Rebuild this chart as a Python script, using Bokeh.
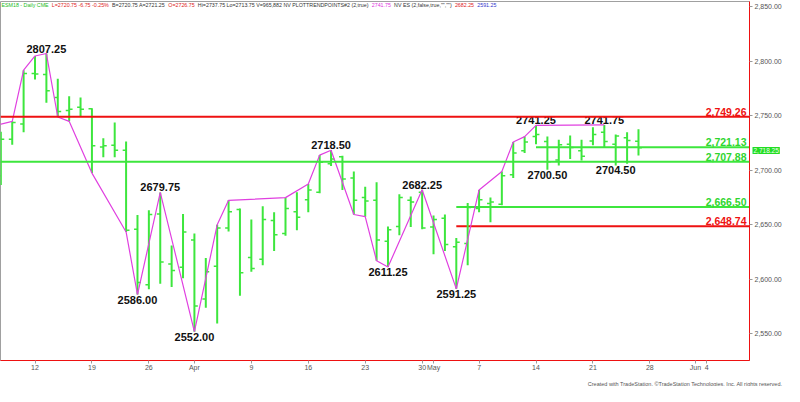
from bokeh.plotting import figure
from bokeh.models import (Range1d, FixedTicker, NumeralTickFormatter, Label,
                          ColumnDataSource, Span)
from bokeh.embed import file_html
from bokeh.resources import INLINE
from bokeh.core.properties import value

# ---------------- data ----------------
dates = ["Mar 7", "Mar 8", "Mar 9", "Mar 12", "Mar 13", "Mar 14", "Mar 15", "Mar 16",
         "Mar 19", "Mar 20", "Mar 21", "Mar 22", "Mar 23", "Mar 26", "Mar 27", "Mar 28",
         "Mar 29", "Apr 2", "Apr 3", "Apr 4", "Apr 5", "Apr 6", "Apr 9", "Apr 10",
         "Apr 11", "Apr 12", "Apr 13", "Apr 16", "Apr 17", "Apr 18", "Apr 19", "Apr 20",
         "Apr 23", "Apr 24", "Apr 25", "Apr 26", "Apr 27", "Apr 30", "May 1", "May 2",
         "May 3", "May 4", "May 7", "May 8", "May 9", "May 10", "May 11", "May 14",
         "May 15", "May 16", "May 17", "May 18", "May 21", "May 22", "May 23", "May 24",
         "May 25"]
opens = [2695, 2728.5, 2742.5, 2789, 2788, 2767, 2755, 2758,
         2756.5, 2721.5, 2723, 2718.5, 2646, 2595, 2660, 2614,
         2611, 2636, 2582, 2612, 2647, 2664, 2620, 2618.5,
         2654, 2642, 2662, 2673, 2680, 2706, 2712.5, 2693,
         2675, 2672.5, 2635, 2648.5, 2672.5, 2680, 2648, 2656,
         2630, 2633, 2665, 2669.5, 2669, 2696, 2718, 2731,
         2726.5, 2709.5, 2724, 2718, 2727, 2735, 2724, 2730,
         2726.75]
highs = [2735.5, 2745, 2792, 2805, 2807.25, 2784, 2768, 2767,
         2757, 2729.5, 2744, 2726.5, 2659, 2663.5, 2679.75, 2631,
         2660, 2642, 2619.5, 2650, 2672.5, 2665, 2655, 2667,
         2661.5, 2675, 2680, 2687.5, 2714, 2718.5, 2713.5, 2699,
         2685, 2689, 2648.5, 2678, 2676, 2682.25, 2658.5, 2659.5,
         2638, 2670, 2682, 2675, 2699, 2726, 2731, 2741.25,
         2731, 2728, 2732, 2728, 2739.5, 2741.75, 2733, 2735,
         2737.75]
lows = [2686.5, 2723.5, 2735, 2783.5, 2762, 2749, 2745, 2750,
        2697.5, 2712, 2712, 2643.5, 2586, 2591, 2596, 2593,
        2601, 2552, 2574, 2559.5, 2644, 2585, 2607, 2613,
        2626, 2640, 2645, 2661.5, 2679, 2704, 2682, 2659.5,
        2657.5, 2617, 2611.25, 2640.5, 2648, 2646, 2623, 2626,
        2591.25, 2613, 2661.5, 2652.5, 2668, 2693, 2716, 2724,
        2700.5, 2704.5, 2710.5, 2709, 2723, 2720.5, 2704.5, 2706,
        2713.75]
closes = [2728.5, 2744, 2789, 2788.5, 2773, 2754, 2756, 2756,
          2722.5, 2722.5, 2718.5, 2645, 2597, 2659.5, 2616, 2608,
          2643.5, 2575.5, 2607, 2647, 2662, 2606, 2610, 2655,
          2641, 2665, 2657, 2682, 2707.5, 2710.5, 2692, 2672.5,
          2672, 2636, 2645.5, 2675, 2671, 2647, 2655, 2632,
          2634, 2666, 2673, 2671, 2695, 2716, 2726, 2733,
          2708, 2723.5, 2721, 2713, 2733, 2726.5, 2731.5, 2727.5,
          2720.75]

# trading-day positions (Mar 7 = 0) for the trend-point line
trend_x = [-1, 1, 2, 3, 4, 5, 6, 8, 11, 12, 14, 17, 19, 20, 25, 27, 28, 29,
           31, 32, 33, 34, 37, 40, 42, 44, 45, 46, 47, 53]
trend_y = [2740, 2745, 2792, 2805, 2807.25, 2749, 2745, 2697.5, 2643.5, 2586,
           2679.75, 2552, 2650, 2672.5, 2675, 2687.5, 2714, 2718.5, 2659.5,
           2657.5, 2617, 2611.25, 2682.25, 2591.25, 2682, 2699, 2726, 2731,
           2741.25, 2741.75]

swing_high_x = [4, 14, 29, 37, 47, 53]
swing_high_y = [2807.25, 2679.75, 2718.50, 2682.25, 2741.25, 2741.75]
swing_low_x = [12, 17, 34, 40, 48, 54]
swing_low_y = [2586.00, 2552.00, 2611.25, 2591.25, 2700.50, 2704.50]

level_values = [2749.26, 2721.13, 2707.88, 2666.50, 2648.74]
level_kind = ["red", "green", "green", "green", "red"]
level_start = [None, 47, None, 40, 40]

last_marker = 2718.25

tick_pos = [3, 8, 13, 17, 22, 27, 32, 37, 38, 42, 47, 52, 57, 61, 62]
tick_labels = ["12", "19", "26", "Apr", "9", "16", "23", "30", "May", "7",
               "14", "21", "28", "Jun", "4"]
y_ticks = [2550, 2600, 2650, 2700, 2750, 2800, 2850]

header_texts = ["ESM18 - Daily CME", "L=2720.75 -6.75 -0.25%", "B=2720.75 A=2721.25",
                "O=2726.75", "Hi=2737.75 Lo=2713.75 V=965,882 NV PLOTTRENDPOINTS#2 (2,true)",
                "2741.75", "NV ES (2,false,true,\"\",\"\")", "2682.25", "2591.25"]
header_colors = ["#22bb22", "#dd2222", "#333333", "#dd2222", "#333333",
                 "#dd33dd", "#333333", "#dd2222", "#3333cc"]

# ---------------- styles ----------------
GREEN = "#3de63d"
GREEN_TXT = "#2fd52f"
RED = "#ee1111"
MAGENTA = "#e040e0"
FONT = "Liberation Sans"
W, H = 784, 386
RIGHT = 33
X0, X1 = -0.03, 65.75
Y0, Y1 = 2525.5, 2855.0

# approximate Arial / Liberation Sans advance widths (em) for laying out the header
_CW = {c: 0.556 for c in "0123456789#"}
_CW.update({".": .278, ",": .278, " ": .278, "-": .333, "=": .584, "%": .889,
            "(": .333, ")": .333, "\"": .355, "A": .667, "B": .667, "C": .722,
            "D": .722, "E": .667, "H": .722, "I": .278, "L": .556, "M": .833,
            "N": .722, "O": .778, "P": .667, "R": .722, "S": .667, "T": .611,
            "V": .667, "a": .556, "e": .556, "f": .278, "i": .222, "l": .222,
            "o": .556, "r": .333, "s": .5, "t": .278, "u": .556, "y": .5})


def text_w(s, size):
    return sum(_CW.get(c, 0.556) for c in s) * size


p = figure(width=W, height=H, output_backend="svg", toolbar_location=None,
           x_range=Range1d(X0, X1), y_range=Range1d(Y0, Y1),
           y_axis_location="right", min_border_left=0, min_border_right=RIGHT,
           min_border_top=1, min_border_bottom=24)
p.xgrid.visible = False
p.ygrid.visible = False
p.outline_line_color = "#a0a0a0"
p.background_fill_color = "white"
p.border_fill_color = "white"

# axes
p.yaxis.ticker = FixedTicker(ticks=y_ticks)
p.yaxis.formatter = NumeralTickFormatter(format="0,0.00")
p.xaxis.ticker = FixedTicker(ticks=tick_pos)
p.xaxis.major_label_overrides = {tp: tl for tp, tl in zip(tick_pos, tick_labels)}
for ax in (p.xaxis, p.yaxis):
    ax.axis_line_color = RED
    ax.axis_line_width = 1
    ax.major_tick_line_color = "#999999"
    ax.major_tick_in = 0
    ax.major_tick_out = 3
    ax.minor_tick_line_color = None
    ax.major_label_text_font = FONT
    ax.major_label_text_font_size = "7px"
    ax.major_label_text_color = "#555555"
    ax.major_label_standoff = 2
p.xaxis.major_label_standoff = 0

# level lines
for v, k, s in zip(level_values, level_kind, level_start):
    col = RED if k == "red" else GREEN
    if s is None:
        p.add_layout(Span(location=v, dimension="width", line_color=col, line_width=2))
    else:
        p.segment(x0=[s], y0=[v], x1=[X1], y1=[v], line_color=col, line_width=2)

# OHLC bars
xs = list(range(len(dates)))
src = ColumnDataSource(dict(
    x=xs, xl=[x - 0.3 for x in xs], xr=[x + 0.3 for x in xs],
    o=opens, h=highs, l=lows, c=closes, d=dates))
p.segment(x0="x", y0="l", x1="x", y1="h", source=src, line_color=GREEN, line_width=2)
p.segment(x0="xl", y0="o", x1="x", y1="o", source=src, line_color=GREEN, line_width=1.5)
p.segment(x0="x", y0="c", x1="xr", y1="c", source=src, line_color=GREEN, line_width=1.5)

# trend point line
p.line(trend_x, trend_y, line_color=MAGENTA, line_width=1.2)

# swing labels
p.text(x=swing_high_x, y=swing_high_y, text=["%.2f" % v for v in swing_high_y],
       text_align="center", text_baseline="bottom", y_offset=-1,
       text_font=value(FONT), text_font_style="bold", text_font_size="11px",
       text_color="#111111")
p.text(x=swing_low_x, y=swing_low_y, text=["%.2f" % v for v in swing_low_y],
       text_align="center", text_baseline="top", y_offset=1,
       text_font=value(FONT), text_font_style="bold", text_font_size="11px",
       text_color="#111111")

# level labels
p.text(x=[X1] * len(level_values), y=level_values,
       text=["{:,.2f}".format(v) for v in level_values],
       text_align="right", text_baseline="bottom", x_offset=-3, y_offset=-1,
       text_font=value(FONT), text_font_style="bold", text_font_size="10.5px",
       text_color=[RED if k == "red" else GREEN_TXT for k in level_kind])

# header line (laid out left to right)
HS = 5.3
hx = 1.0
for ht, hc in zip(header_texts, header_colors):
    p.add_layout(Label(x=hx, x_units="canvas", y=2851.5, y_units="data", text=ht,
                       text_font=FONT, text_font_size="%.1fpx" % HS, text_color=hc,
                       text_baseline="middle"))
    hx += text_w(ht, HS) + 3.2

# last-price marker on the price axis; put in a side panel (uses the spare bottom
# border) so that it is not clipped to the plot frame
marker = Label(x=W - RIGHT + 1, x_units="canvas", y=last_marker, y_units="data",
               text="{:,.2f}".format(last_marker),
               text_baseline="middle", text_align="left", text_font=FONT,
               text_font_size="6.5px", text_color="#f0fff0",
               background_fill_color="#22dd22", background_fill_alpha=1.0)
if "padding" in Label.properties():
    marker.padding = 1
p.add_layout(marker, "below")

# footer
p.add_layout(Label(x=W - 2, y=H, x_units="canvas", y_units="canvas",
                   text="Created with TradeStation. \u00a9TradeStation Technologies, Inc. All rights reserved.",
                   text_align="right", text_baseline="bottom", text_font=FONT,
                   text_font_size="5.5px", text_color="#555555"), "below")

open("out.html", "w").write(file_html(p, INLINE))
